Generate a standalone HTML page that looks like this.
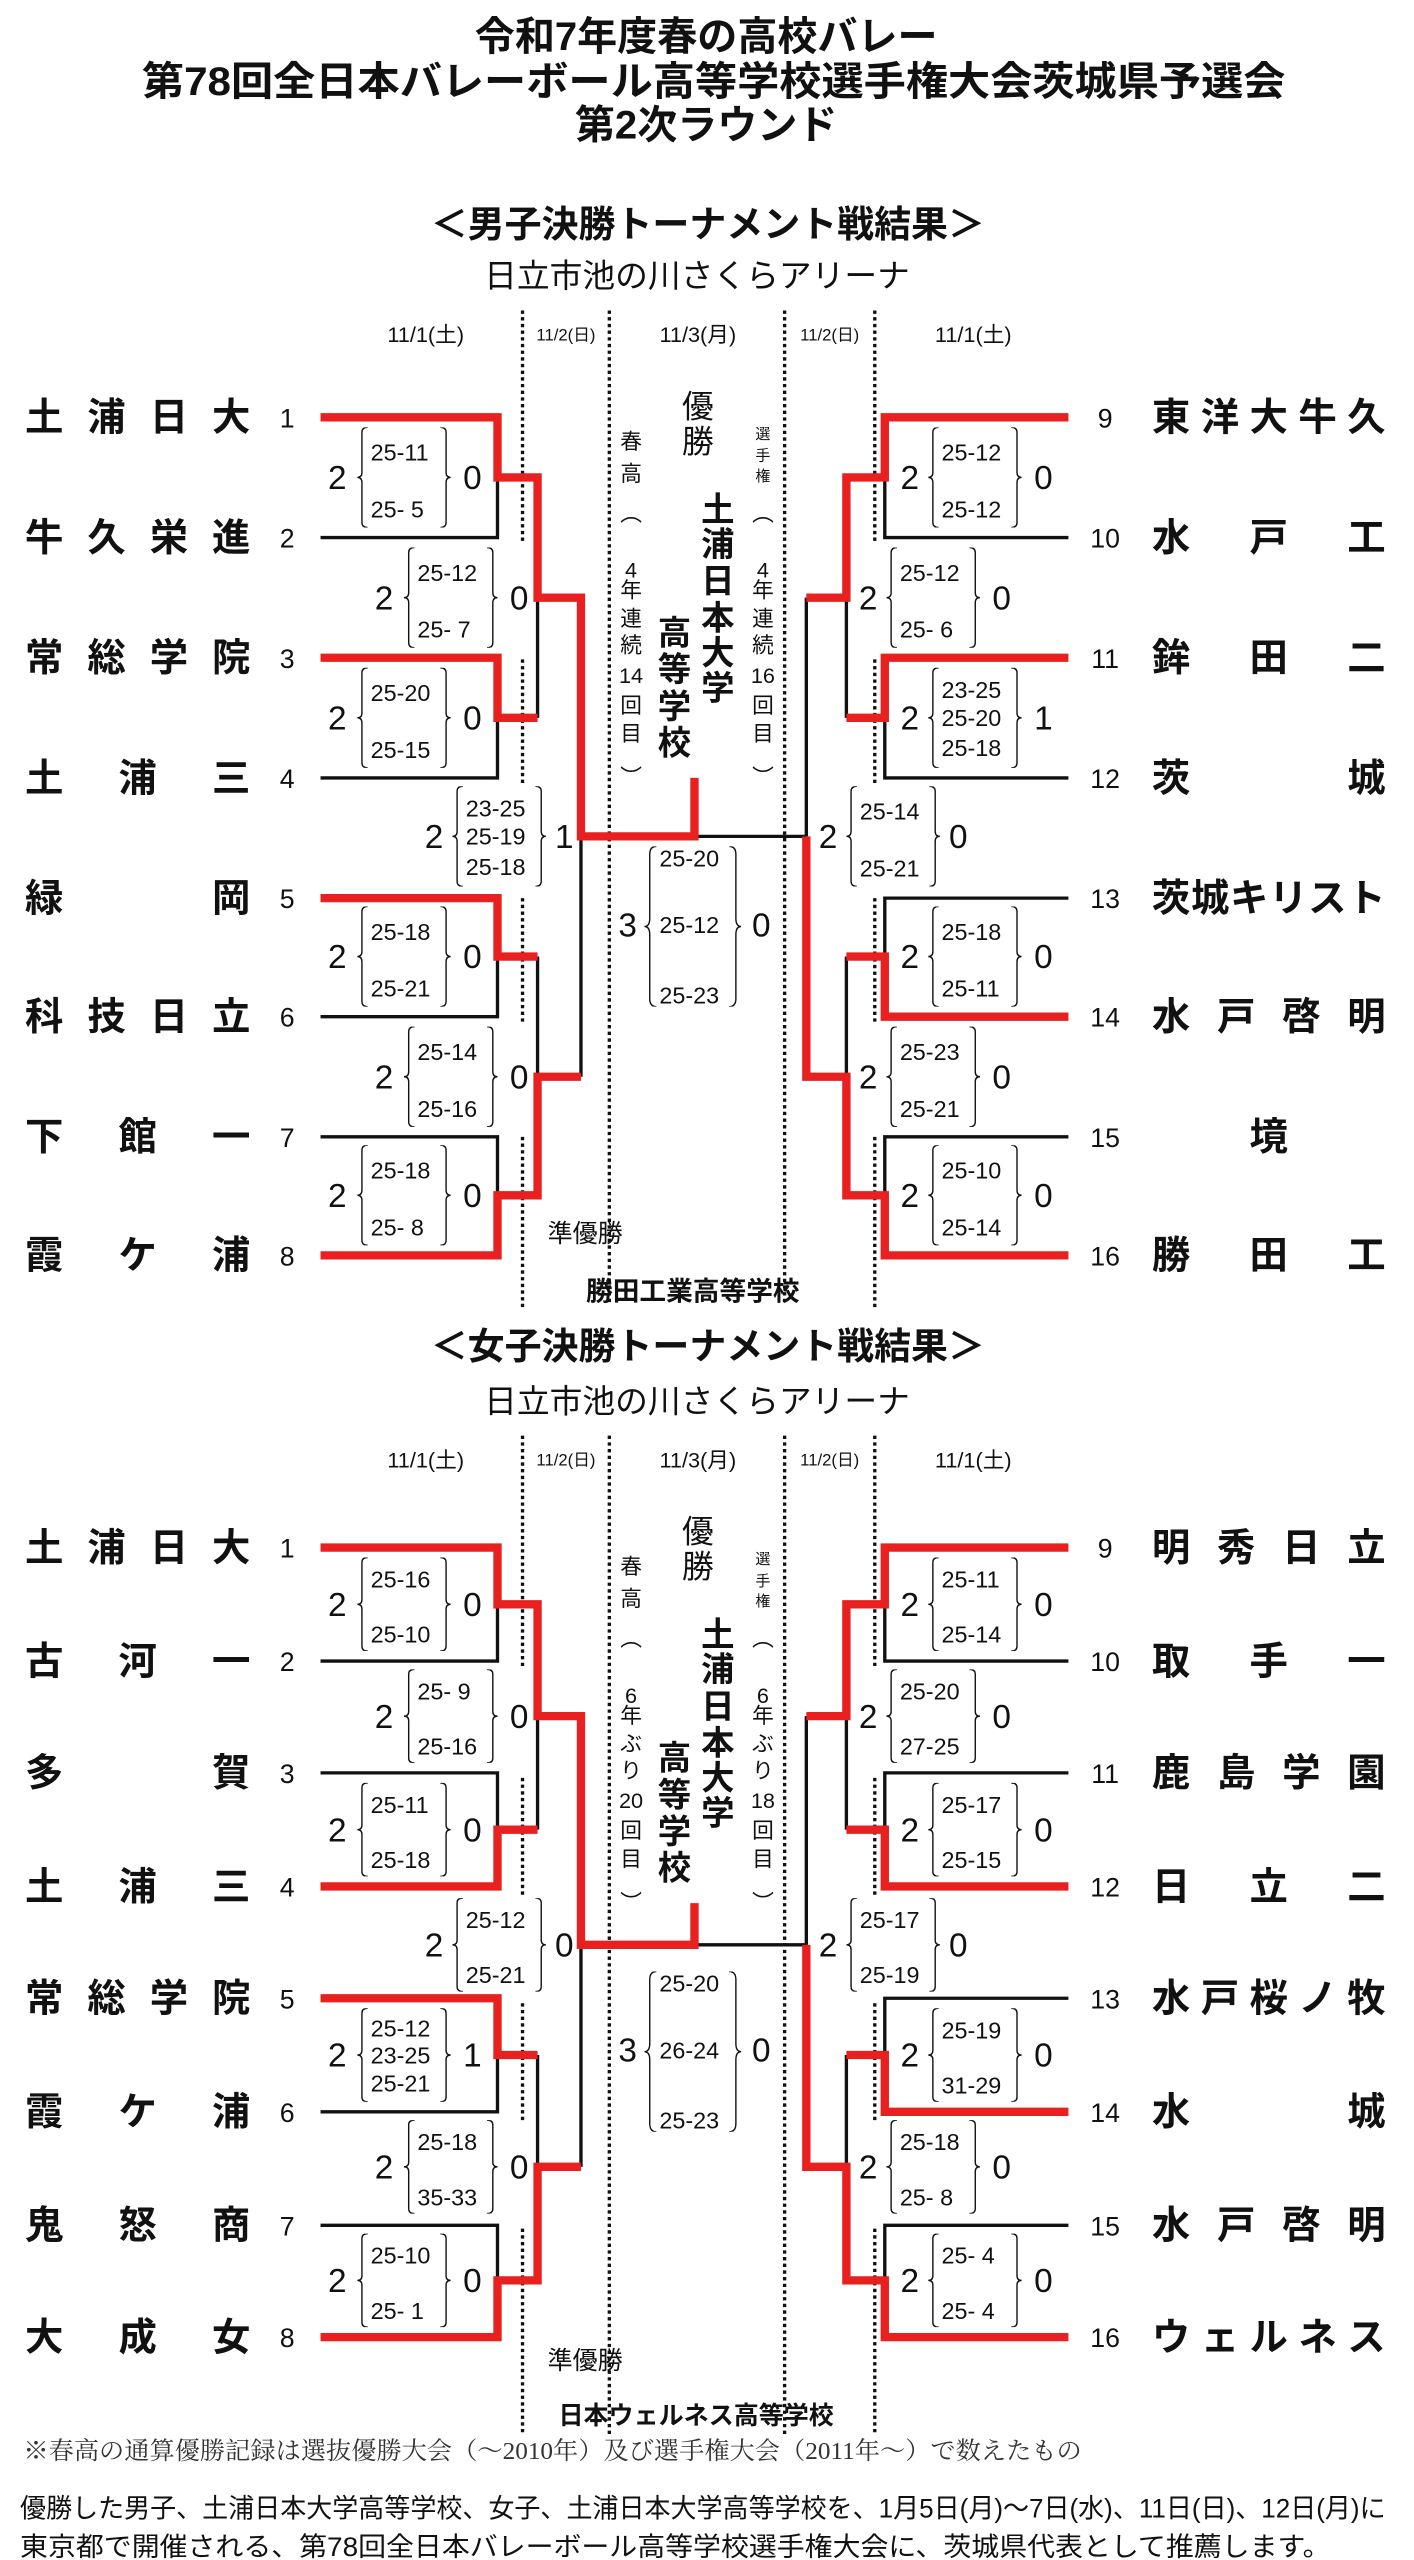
<!DOCTYPE html>
<html><head><meta charset="utf-8"><style>
html,body{margin:0;padding:0;background:#fff;}
svg{display:block;}
text{font-family:"Liberation Sans","Noto Sans CJK JP",sans-serif;fill:#111;}
.t{font-weight:bold;}
.nm{font-weight:bold;font-size:23px;}
.no{font-size:16px;text-anchor:middle;}
.sc{font-size:14px;}
.big{font-size:20px;text-anchor:middle;}
.dt{font-size:13px;text-anchor:middle;}
.ds{font-size:10px;text-anchor:middle;}
.r{stroke:#e8201f;stroke-width:5;fill:none;stroke-linejoin:miter;stroke-linecap:butt;}
.k{stroke:#111;stroke-width:2;fill:none;}
.d{stroke:#111;stroke-width:2;stroke-dasharray:2,2;fill:none;}
.vc{font-size:13px;text-anchor:middle;}
.vs{font-size:9px;text-anchor:middle;}
.vb{font-size:20px;font-weight:bold;text-anchor:middle;}
.yu{font-size:19px;text-anchor:middle;}
</style></head><body>
<svg width="1414" height="2560" viewBox="0 0 847 1533.5" xmlns="http://www.w3.org/2000/svg">
<defs>
<symbol id="bo" viewBox="0 0 10 100" preserveAspectRatio="none"><path d="M9,0 Q4,0 4,5 V45 Q4,50 0,50 Q4,50 4,55 V95 Q4,100 9,100" fill="none" stroke="#111" stroke-width="1.4" vector-effect="non-scaling-stroke"/></symbol>
<symbol id="bc" viewBox="0 0 10 100" preserveAspectRatio="none"><path d="M1,0 Q6,0 6,5 V45 Q6,50 10,50 Q6,50 6,55 V95 Q6,100 1,100" fill="none" stroke="#111" stroke-width="1.4" vector-effect="non-scaling-stroke"/></symbol>
</defs>
<rect width="847" height="1533.5" fill="#fff"/>

<text class="t" x="423" y="30" font-size="24" text-anchor="middle">令和7年度春の高校バレー</text>
<text class="t" x="85" y="57" font-size="24" textLength="685" lengthAdjust="spacingAndGlyphs">第78回全日本バレーボール高等学校選手権大会茨城県予選会</text>
<text class="t" x="423" y="83" font-size="24" text-anchor="middle">第2次ラウンド</text>

<!-- ================= MEN ================= -->
<g>
<text class="t" x="258" y="142" font-size="22" textLength="332" lengthAdjust="spacingAndGlyphs">＜男子決勝トーナメント戦結果＞</text>
<text x="290" y="172" font-size="19.5" textLength="255" lengthAdjust="spacingAndGlyphs">日立市池の川さくらアリーナ</text>
<text class="dt" x="255" y="205">11/1(土)</text>
<text class="ds" x="339" y="204">11/2(日)</text>
<text class="dt" x="418" y="205">11/3(月)</text>
<text class="ds" x="497" y="204">11/2(日)</text>
<text class="dt" x="583" y="205">11/1(土)</text>
<path class="d" d="M365,186V782 M470,186V782 M313,186V325 M313,395V470 M313,538V612 M313,681V785 M524,186V325 M524,395V470 M524,538V612 M524,681V785"/>

<text class="nm" x="15" y="258" textLength="135" lengthAdjust="spacing">土浦日大</text>
<text class="nm" x="15" y="330" textLength="135" lengthAdjust="spacing">牛久栄進</text>
<text class="nm" x="15" y="402" textLength="135" lengthAdjust="spacing">常総学院</text>
<text class="nm" x="15" y="474" textLength="135" lengthAdjust="spacing">土浦三</text>
<text class="nm" x="15" y="546" textLength="135" lengthAdjust="spacing">緑岡</text>
<text class="nm" x="15" y="617" textLength="135" lengthAdjust="spacing">科技日立</text>
<text class="nm" x="15" y="689" textLength="135" lengthAdjust="spacing">下館一</text>
<text class="nm" x="15" y="760" textLength="135" lengthAdjust="spacing">霞ケ浦</text>
<text class="no" x="172" y="256">1</text><text class="no" x="172" y="328">2</text><text class="no" x="172" y="400">3</text><text class="no" x="172" y="472">4</text>
<text class="no" x="172" y="544">5</text><text class="no" x="172" y="615">6</text><text class="no" x="172" y="687">7</text><text class="no" x="172" y="758">8</text>
<text class="nm" x="690" y="258" textLength="140" lengthAdjust="spacing">東洋大牛久</text>
<text class="nm" x="690" y="330" textLength="140" lengthAdjust="spacing">水戸工</text>
<text class="nm" x="690" y="402" textLength="140" lengthAdjust="spacing">鉾田二</text>
<text class="nm" x="690" y="474" textLength="140" lengthAdjust="spacing">茨城</text>
<text class="nm" x="690" y="546" textLength="140" lengthAdjust="spacing">茨城キリスト</text>
<text class="nm" x="690" y="617" textLength="140" lengthAdjust="spacing">水戸啓明</text>
<text class="nm" x="760" y="689" text-anchor="middle">境</text>
<text class="nm" x="690" y="760" textLength="140" lengthAdjust="spacing">勝田工</text>
<text class="no" x="662" y="256">9</text><text class="no" x="662" y="328">10</text><text class="no" x="662" y="400">11</text><text class="no" x="662" y="472">12</text>
<text class="no" x="662" y="544">13</text><text class="no" x="662" y="615">14</text><text class="no" x="662" y="687">15</text><text class="no" x="662" y="758">16</text>

<path class="k" d="M192,322H298V286 M192,466H298V430 M322,430V358 M192,609H298V573 M192,681H298V716 M322,573V645 M348,645V501 M415,501H483
M640,322H530V286 M640,466H530V430 M507,430V358 M640,538H530V573 M640,681H530V716 M507,573V645 M483,358V501"/>
<path class="r" d="M192,250H298V286H322V358H348V501H416V466 M192,394H298V430H322 M192,538H298V573H322 M192,752H298V716H322V645H348
M640,250H530V286H507V358H483 M640,394H530V430H507 M640,609H530V573H507 M640,752H530V716H507V645H483V501"/>

<text class="big" x="202" y="293">2</text><use href="#bo" x="214" y="256" width="7" height="60"/><text class="sc" x="222" y="276">25-11</text><text class="sc" x="222" y="310">25- 5</text><use href="#bc" x="263" y="256" width="7" height="60"/><text class="big" x="283" y="293">0</text>
<text class="big" x="202" y="437">2</text><use href="#bo" x="214" y="400" width="7" height="60"/><text class="sc" x="222" y="420">25-20</text><text class="sc" x="222" y="454">25-15</text><use href="#bc" x="263" y="400" width="7" height="60"/><text class="big" x="283" y="437">0</text>
<text class="big" x="202" y="580">2</text><use href="#bo" x="214" y="543" width="7" height="60"/><text class="sc" x="222" y="563">25-18</text><text class="sc" x="222" y="597">25-21</text><use href="#bc" x="263" y="543" width="7" height="60"/><text class="big" x="283" y="580">0</text>
<text class="big" x="202" y="723">2</text><use href="#bo" x="214" y="686" width="7" height="60"/><text class="sc" x="222" y="706">25-18</text><text class="sc" x="222" y="740">25- 8</text><use href="#bc" x="263" y="686" width="7" height="60"/><text class="big" x="283" y="723">0</text>
<text class="big" x="230" y="365">2</text><use href="#bo" x="242" y="328" width="7" height="60"/><text class="sc" x="250" y="348">25-12</text><text class="sc" x="250" y="382">25- 7</text><use href="#bc" x="291" y="328" width="7" height="60"/><text class="big" x="311" y="365">0</text>
<text class="big" x="230" y="652">2</text><use href="#bo" x="242" y="615" width="7" height="60"/><text class="sc" x="250" y="635">25-14</text><text class="sc" x="250" y="669">25-16</text><use href="#bc" x="291" y="615" width="7" height="60"/><text class="big" x="311" y="652">0</text>
<text class="big" x="260" y="508">2</text><use href="#bo" x="271" y="471" width="7" height="60"/><text class="sc" x="279" y="489">23-25</text><text class="sc" x="279" y="506">25-19</text><text class="sc" x="279" y="524">25-18</text><use href="#bc" x="320" y="471" width="7" height="60"/><text class="big" x="338" y="508">1</text>
<text class="big" x="545" y="293">2</text><use href="#bo" x="556" y="256" width="7" height="60"/><text class="sc" x="564" y="276">25-12</text><text class="sc" x="564" y="310">25-12</text><use href="#bc" x="605" y="256" width="7" height="60"/><text class="big" x="625" y="293">0</text>
<text class="big" x="545" y="437">2</text><use href="#bo" x="556" y="400" width="7" height="60"/><text class="sc" x="564" y="418">23-25</text><text class="sc" x="564" y="435">25-20</text><text class="sc" x="564" y="453">25-18</text><use href="#bc" x="605" y="400" width="7" height="60"/><text class="big" x="625" y="437">1</text>
<text class="big" x="545" y="580">2</text><use href="#bo" x="556" y="543" width="7" height="60"/><text class="sc" x="564" y="563">25-18</text><text class="sc" x="564" y="597">25-11</text><use href="#bc" x="605" y="543" width="7" height="60"/><text class="big" x="625" y="580">0</text>
<text class="big" x="545" y="723">2</text><use href="#bo" x="556" y="686" width="7" height="60"/><text class="sc" x="564" y="706">25-10</text><text class="sc" x="564" y="740">25-14</text><use href="#bc" x="605" y="686" width="7" height="60"/><text class="big" x="625" y="723">0</text>
<text class="big" x="520" y="365">2</text><use href="#bo" x="531" y="328" width="7" height="60"/><text class="sc" x="539" y="348">25-12</text><text class="sc" x="539" y="382">25- 6</text><use href="#bc" x="580" y="328" width="7" height="60"/><text class="big" x="600" y="365">0</text>
<text class="big" x="520" y="652">2</text><use href="#bo" x="531" y="615" width="7" height="60"/><text class="sc" x="539" y="635">25-23</text><text class="sc" x="539" y="669">25-21</text><use href="#bc" x="580" y="615" width="7" height="60"/><text class="big" x="600" y="652">0</text>
<text class="big" x="496" y="508">2</text><use href="#bo" x="507" y="471" width="7" height="60"/><text class="sc" x="515" y="491">25-14</text><text class="sc" x="515" y="525">25-21</text><use href="#bc" x="556" y="471" width="7" height="60"/><text class="big" x="574" y="508">0</text>
<text class="big" x="376" y="561">3</text><use href="#bo" x="386" y="507" width="8" height="96"/><text class="sc" x="395" y="519">25-20</text><text class="sc" x="395" y="559">25-12</text><text class="sc" x="395" y="601">25-23</text><use href="#bc" x="436" y="507" width="8" height="96"/><text class="big" x="456" y="561">0</text>

<text class="yu" x="418" y="250">優</text><text class="yu" x="418" y="271">勝</text>
<g class="vc">
<text x="378" y="269">春</text><text x="378" y="288">高</text><text x="378" y="312">︵</text><text x="378" y="346">4</text><text x="378" y="358">年</text><text x="378" y="375">連</text><text x="378" y="391">続</text><text x="378" y="409">14</text><text x="378" y="427">回</text><text x="378" y="444">目</text><text x="378" y="470">︶</text>
<text x="457" y="312">︵</text><text x="457" y="346">4</text><text x="457" y="358">年</text><text x="457" y="375">連</text><text x="457" y="391">続</text><text x="457" y="409">16</text><text x="457" y="427">回</text><text x="457" y="444">目</text><text x="457" y="470">︶</text>
</g>
<g class="vs"><text x="457" y="263">選</text><text x="457" y="276">手</text><text x="457" y="288">権</text></g>
<g class="vb">
<text x="430" y="312">土</text><text x="430" y="333">浦</text><text x="430" y="355">日</text><text x="430" y="377">本</text><text x="430" y="398">大</text><text x="430" y="419">学</text>
<text x="404" y="386">高</text><text x="404" y="408">等</text><text x="404" y="430">学</text><text x="404" y="452">校</text>
</g>
<text x="328" y="744" font-size="15">準優勝</text>
<text class="t" x="415" y="779" font-size="16" text-anchor="middle">勝田工業高等学校</text>
</g>

<!-- ================= WOMEN (header / center, offset) ================= -->
<g transform="translate(0,674)">
<text class="t" x="258" y="140" font-size="22" textLength="332" lengthAdjust="spacingAndGlyphs">＜女子決勝トーナメント戦結果＞</text>
<text x="290" y="172" font-size="19.5" textLength="255" lengthAdjust="spacingAndGlyphs">日立市池の川さくらアリーナ</text>
<text class="dt" x="255" y="205">11/1(土)</text>
<text class="ds" x="339" y="204">11/2(日)</text>
<text class="dt" x="418" y="205">11/3(月)</text>
<text class="ds" x="497" y="204">11/2(日)</text>
<text class="dt" x="583" y="205">11/1(土)</text>

<text class="big" x="376" y="561">3</text><use href="#bo" x="386" y="507" width="8" height="96"/><text class="sc" x="395" y="519">25-20</text><text class="sc" x="395" y="559">26-24</text><text class="sc" x="395" y="601">25-23</text><use href="#bc" x="436" y="507" width="8" height="96"/><text class="big" x="456" y="561">0</text>

<text class="yu" x="418" y="250">優</text><text class="yu" x="418" y="271">勝</text>
<g class="vc">
<text x="378" y="269">春</text><text x="378" y="288">高</text><text x="378" y="312">︵</text><text x="378" y="346">6</text><text x="378" y="358">年</text><text x="378" y="375">ぶ</text><text x="378" y="391">り</text><text x="378" y="409">20</text><text x="378" y="427">回</text><text x="378" y="444">目</text><text x="378" y="470">︶</text>
<text x="457" y="312">︵</text><text x="457" y="346">6</text><text x="457" y="358">年</text><text x="457" y="375">ぶ</text><text x="457" y="391">り</text><text x="457" y="409">18</text><text x="457" y="427">回</text><text x="457" y="444">目</text><text x="457" y="470">︶</text>
</g>
<g class="vs"><text x="457" y="263">選</text><text x="457" y="276">手</text><text x="457" y="288">権</text></g>
<g class="vb">
<text x="430" y="312">土</text><text x="430" y="333">浦</text><text x="430" y="355">日</text><text x="430" y="377">本</text><text x="430" y="398">大</text><text x="430" y="419">学</text>
<text x="404" y="386">高</text><text x="404" y="408">等</text><text x="404" y="430">学</text><text x="404" y="452">校</text>
</g>
</g>

<!-- ================= WOMEN bracket (absolute) ================= -->
<path class="d" d="M365,860V1458 M470,860V1458 M313,860V1000 M313,1065V1135 M313,1200V1270 M313,1335V1458 M524,860V1000 M524,1065V1135 M524,1200V1270 M524,1335V1458"/>

<text class="nm" x="15" y="935" textLength="135" lengthAdjust="spacing">土浦日大</text>
<text class="nm" x="15" y="1003" textLength="135" lengthAdjust="spacing">古河一</text>
<text class="nm" x="15" y="1070" textLength="135" lengthAdjust="spacing">多賀</text>
<text class="nm" x="15" y="1138" textLength="135" lengthAdjust="spacing">土浦三</text>
<text class="nm" x="15" y="1205" textLength="135" lengthAdjust="spacing">常総学院</text>
<text class="nm" x="15" y="1273" textLength="135" lengthAdjust="spacing">霞ケ浦</text>
<text class="nm" x="15" y="1341" textLength="135" lengthAdjust="spacing">鬼怒商</text>
<text class="nm" x="15" y="1408" textLength="135" lengthAdjust="spacing">大成女</text>
<text class="no" x="172" y="933">1</text><text class="no" x="172" y="1001">2</text><text class="no" x="172" y="1068">3</text><text class="no" x="172" y="1136">4</text>
<text class="no" x="172" y="1203">5</text><text class="no" x="172" y="1271">6</text><text class="no" x="172" y="1339">7</text><text class="no" x="172" y="1406">8</text>
<text class="nm" x="690" y="935" textLength="140" lengthAdjust="spacing">明秀日立</text>
<text class="nm" x="690" y="1003" textLength="140" lengthAdjust="spacing">取手一</text>
<text class="nm" x="690" y="1070" textLength="140" lengthAdjust="spacing">鹿島学園</text>
<text class="nm" x="690" y="1138" textLength="140" lengthAdjust="spacing">日立二</text>
<text class="nm" x="690" y="1205" textLength="140" lengthAdjust="spacing">水戸桜ノ牧</text>
<text class="nm" x="690" y="1273" textLength="140" lengthAdjust="spacing">水城</text>
<text class="nm" x="690" y="1341" textLength="140" lengthAdjust="spacing">水戸啓明</text>
<text class="nm" x="690" y="1408" textLength="140" lengthAdjust="spacing">ウェルネス</text>
<text class="no" x="662" y="933">9</text><text class="no" x="662" y="1001">10</text><text class="no" x="662" y="1068">11</text><text class="no" x="662" y="1136">12</text>
<text class="no" x="662" y="1203">13</text><text class="no" x="662" y="1271">14</text><text class="no" x="662" y="1339">15</text><text class="no" x="662" y="1406">16</text>

<path class="k" d="M192,995H298V961 M192,1062H298V1096 M322,1096V1028 M192,1265H298V1231 M192,1333H298V1366 M322,1231V1298 M348,1298V1165 M416,1165H483
M640,995H530V961 M640,1062H530V1096 M507,1096V1028 M640,1197H530V1231 M640,1333H530V1366 M507,1231V1298 M483,1028V1165"/>
<path class="r" d="M192,927H298V961H322V1028H348V1165H416V1140 M192,1130H298V1096H322 M192,1197H298V1231H322 M192,1400H298V1366H322V1298H348
M640,927H530V961H507V1028H483 M640,1130H530V1096H507 M640,1265H530V1231H507 M640,1400H530V1366H507V1298H483V1165"/>

<text class="big" x="202" y="968">2</text><use href="#bo" x="214" y="933" width="7" height="56"/><text class="sc" x="222" y="951">25-16</text><text class="sc" x="222" y="984">25-10</text><use href="#bc" x="263" y="933" width="7" height="56"/><text class="big" x="283" y="968">0</text>
<text class="big" x="202" y="1103">2</text><use href="#bo" x="214" y="1068" width="7" height="56"/><text class="sc" x="222" y="1086">25-11</text><text class="sc" x="222" y="1119">25-18</text><use href="#bc" x="263" y="1068" width="7" height="56"/><text class="big" x="283" y="1103">0</text>
<text class="big" x="202" y="1238">2</text><use href="#bo" x="214" y="1203" width="7" height="56"/><text class="sc" x="222" y="1220">25-12</text><text class="sc" x="222" y="1236">23-25</text><text class="sc" x="222" y="1253">25-21</text><use href="#bc" x="263" y="1203" width="7" height="56"/><text class="big" x="283" y="1238">1</text>
<text class="big" x="202" y="1373">2</text><use href="#bo" x="214" y="1338" width="7" height="56"/><text class="sc" x="222" y="1356">25-10</text><text class="sc" x="222" y="1389">25- 1</text><use href="#bc" x="263" y="1338" width="7" height="56"/><text class="big" x="283" y="1373">0</text>
<text class="big" x="230" y="1035">2</text><use href="#bo" x="242" y="1000" width="7" height="56"/><text class="sc" x="250" y="1018">25- 9</text><text class="sc" x="250" y="1051">25-16</text><use href="#bc" x="291" y="1000" width="7" height="56"/><text class="big" x="311" y="1035">0</text>
<text class="big" x="230" y="1305">2</text><use href="#bo" x="242" y="1270" width="7" height="56"/><text class="sc" x="250" y="1288">25-18</text><text class="sc" x="250" y="1321">35-33</text><use href="#bc" x="291" y="1270" width="7" height="56"/><text class="big" x="311" y="1305">0</text>
<text class="big" x="260" y="1172">2</text><use href="#bo" x="271" y="1137" width="7" height="56"/><text class="sc" x="279" y="1155">25-12</text><text class="sc" x="279" y="1188">25-21</text><use href="#bc" x="320" y="1137" width="7" height="56"/><text class="big" x="338" y="1172">0</text>
<text class="big" x="545" y="968">2</text><use href="#bo" x="556" y="933" width="7" height="56"/><text class="sc" x="564" y="951">25-11</text><text class="sc" x="564" y="984">25-14</text><use href="#bc" x="605" y="933" width="7" height="56"/><text class="big" x="625" y="968">0</text>
<text class="big" x="545" y="1103">2</text><use href="#bo" x="556" y="1068" width="7" height="56"/><text class="sc" x="564" y="1086">25-17</text><text class="sc" x="564" y="1119">25-15</text><use href="#bc" x="605" y="1068" width="7" height="56"/><text class="big" x="625" y="1103">0</text>
<text class="big" x="545" y="1238">2</text><use href="#bo" x="556" y="1203" width="7" height="56"/><text class="sc" x="564" y="1221">25-19</text><text class="sc" x="564" y="1254">31-29</text><use href="#bc" x="605" y="1203" width="7" height="56"/><text class="big" x="625" y="1238">0</text>
<text class="big" x="545" y="1373">2</text><use href="#bo" x="556" y="1338" width="7" height="56"/><text class="sc" x="564" y="1356">25- 4</text><text class="sc" x="564" y="1389">25- 4</text><use href="#bc" x="605" y="1338" width="7" height="56"/><text class="big" x="625" y="1373">0</text>
<text class="big" x="520" y="1035">2</text><use href="#bo" x="531" y="1000" width="7" height="56"/><text class="sc" x="539" y="1018">25-20</text><text class="sc" x="539" y="1051">27-25</text><use href="#bc" x="580" y="1000" width="7" height="56"/><text class="big" x="600" y="1035">0</text>
<text class="big" x="520" y="1305">2</text><use href="#bo" x="531" y="1270" width="7" height="56"/><text class="sc" x="539" y="1288">25-18</text><text class="sc" x="539" y="1321">25- 8</text><use href="#bc" x="580" y="1270" width="7" height="56"/><text class="big" x="600" y="1305">0</text>
<text class="big" x="496" y="1172">2</text><use href="#bo" x="507" y="1137" width="7" height="56"/><text class="sc" x="515" y="1155">25-17</text><text class="sc" x="515" y="1188">25-19</text><use href="#bc" x="556" y="1137" width="7" height="56"/><text class="big" x="574" y="1172">0</text>

<text x="328" y="1419" font-size="15">準優勝</text>
<text class="t" x="417" y="1452" font-size="15" text-anchor="middle">日本ウェルネス高等学校</text>

<text x="14" y="1473" font-size="14.5" style="font-family:'Liberation Serif','Noto Serif CJK SC',serif;fill:#333;" textLength="634" lengthAdjust="spacingAndGlyphs">※春高の通算優勝記録は選抜優勝大会（〜2010年）及び選手権大会（2011年〜）で数えたもの</text>
<text x="12" y="1508" font-size="16" textLength="818" lengthAdjust="spacingAndGlyphs">優勝した男子、土浦日本大学高等学校、女子、土浦日本大学高等学校を、1月5日(月)〜7日(水)、11日(日)、12日(月)に</text>
<text x="12" y="1531" font-size="16" textLength="785" lengthAdjust="spacingAndGlyphs">東京都で開催される、第78回全日本バレーボール高等学校選手権大会に、茨城県代表として推薦します。</text>
</svg>
</body></html>
